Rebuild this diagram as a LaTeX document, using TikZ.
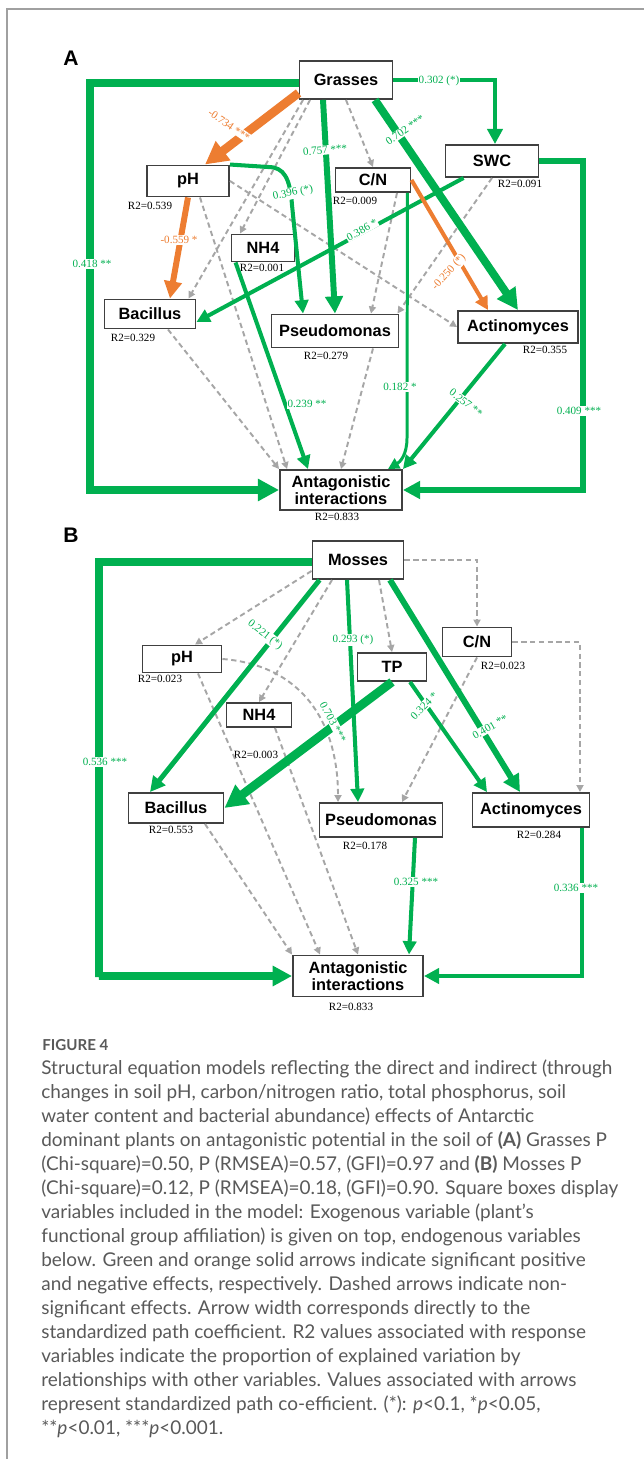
\documentclass[tikz,border=0pt]{standalone}
\usepackage{fontspec}
\usetikzlibrary{arrows.meta}
\newfontfamily\boxfont{Liberation Sans}
\newfontfamily\numfont{Liberation Serif}
\newfontfamily\capfont{Lato}
\definecolor{semgreen}{HTML}{00B050}
\definecolor{semorange}{HTML}{ED7D31}
\definecolor{semgray}{HTML}{A6A6A6}
\definecolor{capgray}{HTML}{595959}
\definecolor{rulegray}{HTML}{A0A0A0}

\begin{document}
\begin{tikzpicture}[x=0.02cm, y=-0.02cm,
  box/.style={draw=black!75, line width=1.1pt, fill=white, inner sep=0pt, align=center,
    font=\boxfont\bfseries\fontsize{9.3}{10}\selectfont},
  rtwo/.style={inner sep=0pt, font=\numfont\fontsize{6.3}{7}\selectfont},
  coef/.style={fill=white, inner sep=0.5pt, font=\numfont\fontsize{6.3}{7}\selectfont},
  ns/.style={draw=semgray, line width=1.1pt, dash pattern=on 3pt off 2pt,
    -{Triangle[length=4pt,width=4pt]}},
  pos/.style={draw=semgreen, line width=#1, -{Triangle[length=3pt 2,width=3pt 2]}},
  neg/.style={draw=semorange, line width=#1, -{Triangle[length=3pt 2,width=3pt 2]}},
  panel/.style={font=\boxfont\bfseries\fontsize{12}{14}\selectfont}]
\useasboundingbox (0,0) rectangle (644,1459);
\draw[rulegray, line width=0.6pt] (7,1459) -- (7,9) -- (644,9);

% ---------- panel A: grasses ----------
\node (lblA) at (71,58) [panel] {A};
\node (gr) at (346,80) [box, minimum width=1.86cm, minimum height=0.76cm] {Grasses};
\node (swc) at (492,161) [box, minimum width=1.86cm, minimum height=0.64cm] {SWC};
\node (ph) at (188,181) [box, minimum width=1.64cm, minimum height=0.62cm] {pH};
\node (cn) at (373,180) [box, minimum width=1.50cm, minimum height=0.48cm] {C/N};
\node (nh) at (263,248) [box, minimum width=1.26cm, minimum height=0.54cm] {NH4};
\node (bac) at (150,314) [box, minimum width=1.82cm, minimum height=0.58cm] {Bacillus};
\node (ps) at (335,331) [box, minimum width=2.54cm, minimum height=0.66cm] {Pseudomonas};
\node (ac) at (518,327) [box, minimum width=2.40cm, minimum height=0.64cm] {Actinomyces};
\node (ant) at (341,490) [box, minimum width=2.44cm, minimum height=0.80cm] {Antagonistic\\interactions};

\node (rswc) at (520,184) [rtwo] {R2=0.091};
\node (rph) at (150,206) [rtwo] {R2=0.539};
\node (rcn) at (355,201) [rtwo] {R2=0.009};
\node (rnh) at (262,268) [rtwo] {R2=0.001};
\node (rbac) at (133,338) [rtwo] {R2=0.329};
\node (rps) at (326,356) [rtwo] {R2=0.279};
\node (rac) at (545,350) [rtwo] {R2=0.355};
\node (rant) at (337,517) [rtwo] {R2=0.833};

% non significant paths
\draw[ns] ([xshift=-0.86cm]gr.south) -- ([xshift=-0.16cm]bac.north east);
\draw[ns] ([xshift=-0.72cm]gr.south) -- ([xshift=-0.46cm]nh.north);
\draw[ns] (gr.south) -- (cn.north);
\draw[ns] (ph.east) -- (ac.west);
\draw[ns] ([xshift=0.24cm]ph.south) -- ([xshift=0.16cm]ant.north west);
\draw[ns] ([xshift=0.48cm]cn.south) -- ([xshift=0.72cm]ps.north);
\draw[ns] (swc.south) -- ([xshift=-0.04cm]ps.north east);
\draw[ns] ([xshift=0.36cm]bac.south) -- (ant.north west);
\draw[ns] ([xshift=0.76cm]ps.south) -- (ant.north);

% significant paths
\coordinate (loopA) at (90,489);
\coordinate (loopAr) at (583,489);
\draw[pos=4.5pt] ([yshift=-0.06cm]gr.west) -| (loopA) |- (ant.west);
\draw[pos=3.4pt] (swc.east) -| (loopAr) |- (ant.east);
\draw[pos=2.8pt] (gr.east) -| ([xshift=0.06cm]swc.north);
\draw[neg=5pt] ([yshift=0.14cm]gr.south west) -- ([xshift=0.34cm]ph.north);
\draw[neg=3.4pt] (ph.south) -- ([xshift=0.4cm]bac.north);
\draw[pos=3.4pt] ([xshift=-0.46cm]gr.south) -- (ps.north);
\draw[pos=2.3pt] (ph.north east) -- (268,167) .. controls (284,167) and (290,178) .. (292,205)
  -- ([xshift=-0.64cm]ps.north);
\draw[pos=2.3pt] ([xshift=0.38cm]swc.south west) -- ([yshift=-0.16cm]bac.east);
\draw[pos=2.3pt] ([xshift=0.1cm]nh.south west) -- ([xshift=-0.66cm]ant.north);
\draw[pos=1.7pt] ([xshift=-0.08cm]cn.south east) -- (407,438) .. controls (407,455) and (400,462)
  .. ([xshift=-0.3cm]ant.north east);
\draw[pos=4.5pt] ([xshift=0.58cm]gr.south) -- (ac.north);
\draw[neg=2.3pt] (cn.east) -- ([xshift=-0.6cm]ac.north);
\draw[pos=2.3pt] ([xshift=-0.26cm]ac.south) -- (ant.north east);

% path coefficients
\node (kA1) at (439,81) [coef, text=semgreen] {0.302 (*)};
\node (kA2) at (92,264) [coef, text=semgreen] {0.418 **};
\node (kA3) at (579,411) [coef, text=semgreen] {0.409 ***};
\node (kA4) at (229,125) [coef, text=semorange, rotate=-35] {-0.734 ***};
\node (kA5) at (179,240) [coef, text=semorange] {-0.559 *};
\node (kA6) at (325,150) [coef, text=semgreen, rotate=5] {0.757 ***};
\node (kA7) at (293,193) [coef, text=semgreen, rotate=12] {0.396 (*)};
\node (kA8) at (405,130) [coef, text=semgreen, rotate=35] {0.702 ***};
\node (kA9) at (362,230) [coef, text=semgreen, rotate=29] {0.386 *};
\node (kA10) at (449,272) [coef, text=semorange, rotate=48] {-0.250 (*)};
\node (kA11) at (307,404) [coef, text=semgreen] {0.239 **};
\node (kA12) at (400,387) [coef, text=semgreen] {0.182 *};
\node (kA13) at (466,403) [coef, text=semgreen, rotate=-38] {0.257 **};

% ---------- panel B: mosses ----------
\node (lblB) at (71,535) [panel] {B};
\node (mo) at (358,560) [box, minimum width=1.82cm, minimum height=0.76cm] {Mosses};
\node (cnb) at (477,642) [box, minimum width=1.38cm, minimum height=0.58cm] {C/N};
\node (tpb) at (392,667) [box, minimum width=1.38cm, minimum height=0.56cm] {TP};
\node (phb) at (182,659) [box, minimum width=1.58cm, minimum height=0.54cm] {pH};
\node (nhb) at (259,715) [box, minimum width=1.30cm, minimum height=0.48cm] {NH4};
\node (bacb) at (176,808) [box, minimum width=1.90cm, minimum height=0.60cm] {Bacillus};
\node (psb) at (381,820) [box, minimum width=2.46cm, minimum height=0.68cm] {Pseudomonas};
\node (acb) at (531,810) [box, minimum width=2.34cm, minimum height=0.68cm] {Actinomyces};
\node (antb) at (358,976) [box, minimum width=2.60cm, minimum height=0.82cm] {Antagonistic\\interactions};

\node (rphb) at (160,679) [rtwo] {R2=0.023};
\node (rcnb) at (503,666) [rtwo] {R2=0.023};
\node (rnhb) at (256,755) [rtwo] {R2=0.003};
\node (rbacb) at (171,830) [rtwo] {R2=0.553};
\node (rpsb) at (365,846) [rtwo] {R2=0.178};
\node (racb) at (539,835) [rtwo] {R2=0.284};
\node (rantb) at (351,1007) [rtwo] {R2=0.833};

% non significant paths
\draw[ns] (mo.east) -| (cnb.north);
\draw[ns] (cnb.east) -| ([xshift=0.98cm]acb.north);
\draw[ns] ([yshift=0.18cm]mo.south west) -- ([xshift=0.26cm]phb.north);
\draw[ns] ([xshift=-0.52cm]mo.south) -- (nhb.north);
\draw[ns] ([xshift=0.42cm]mo.south) -- (tpb.north);
\draw[ns] (cnb.south) -- ([xshift=0.42cm]psb.north);
\draw[ns] (phb.east) .. controls (300,665) and (338,720) .. ([xshift=-0.86cm]psb.north);
\draw[ns] ([xshift=0.32cm]phb.south) -- ([xshift=-0.76cm]antb.north);
\draw[ns] ([xshift=0.32cm]nhb.south) -- (antb.north);
\draw[ns] ([xshift=0.58cm]bacb.south) -- (antb.north west);

% significant paths
\coordinate (loopB) at (99,977);
\draw[pos=4pt] ([yshift=-0.04cm]mo.west) -| (loopB) |- (antb.west);
\draw[pos=2.8pt] ([xshift=1.02cm]acb.south) |- (antb.east);
\draw[pos=2.8pt] ([xshift=0.16cm]mo.south west) -- ([xshift=-0.52cm]bacb.north);
\draw[pos=2.3pt] ([xshift=-0.22cm]mo.south) -- ([xshift=-0.46cm]psb.north);
\draw[pos=3.4pt] ([xshift=0.64cm]mo.south) -- ([xshift=-0.22cm]acb.north);
\draw[pos=5pt] (tpb.south) -- (bacb.east);
\draw[pos=2.3pt] ([xshift=0.36cm]tpb.south) -- ([xshift=-0.88cm]acb.north);
\draw[pos=2.3pt] ([xshift=0.68cm]psb.south) -- ([xshift=1.02cm]antb.north);

% path coefficients
\node (kB1) at (105,762) [coef, text=semgreen] {0.536 ***};
\node (kB2) at (576,888) [coef, text=semgreen] {0.336 ***};
\node (kB3) at (265,635) [coef, text=semgreen, rotate=-38] {0.221 (*)};
\node (kB4) at (353,640) [coef, text=semgreen] {0.293 (*)};
\node (kB5) at (333,722) [coef, text=semgreen, rotate=-62] {0.703 ***};
\node (kB6) at (424,706) [coef, text=semgreen, rotate=45] {0.324 *};
\node (kB7) at (490,727) [coef, text=semgreen, rotate=30] {0.401 **};
\node (kB8) at (416,882) [coef, text=semgreen] {0.325 ***};

% ---------- caption ----------
\node (fig) at (42,1045) [anchor=west, inner sep=0pt, text=capgray,
  font=\capfont\bfseries\fontsize{8.6}{9}\selectfont] {FIGURE 4};
\node (cap) at (41,1059) [anchor=north west, inner sep=0pt, align=left, text=capgray,
  font=\capfont\fontsize{10.8}{13.66}\selectfont]
  {Structural equation models reflecting the direct and indirect (through\\
   changes in soil pH, carbon/nitrogen ratio, total phosphorus, soil\\
   water content and bacterial abundance) effects of Antarctic\\
   dominant plants on antagonistic potential in the soil of \textbf{(A)} Grasses P\\
   (Chi-square)=0.50, P (RMSEA)=0.57, (GFI)=0.97 and \textbf{(B)} Mosses P\\
   (Chi-square)=0.12, P (RMSEA)=0.18, (GFI)=0.90. Square boxes display\\
   variables included in the model: Exogenous variable (plant’s\\
   functional group affiliation) is given on top, endogenous variables\\
   below. Green and orange solid arrows indicate significant positive\\
   and negative effects, respectively. Dashed arrows indicate non-\\
   significant effects. Arrow width corresponds directly to the\\
   standardized path coefficient. R2 values associated with response\\
   variables indicate the proportion of explained variation by\\
   relationships with other variables. Values associated with arrows\\
   represent standardized path co-efficient. (*): \textit{p}<0.1, *\textit{p}<0.05,\\
   **\textit{p}<0.01, ***\textit{p}<0.001.};
\end{tikzpicture}
\end{document}
